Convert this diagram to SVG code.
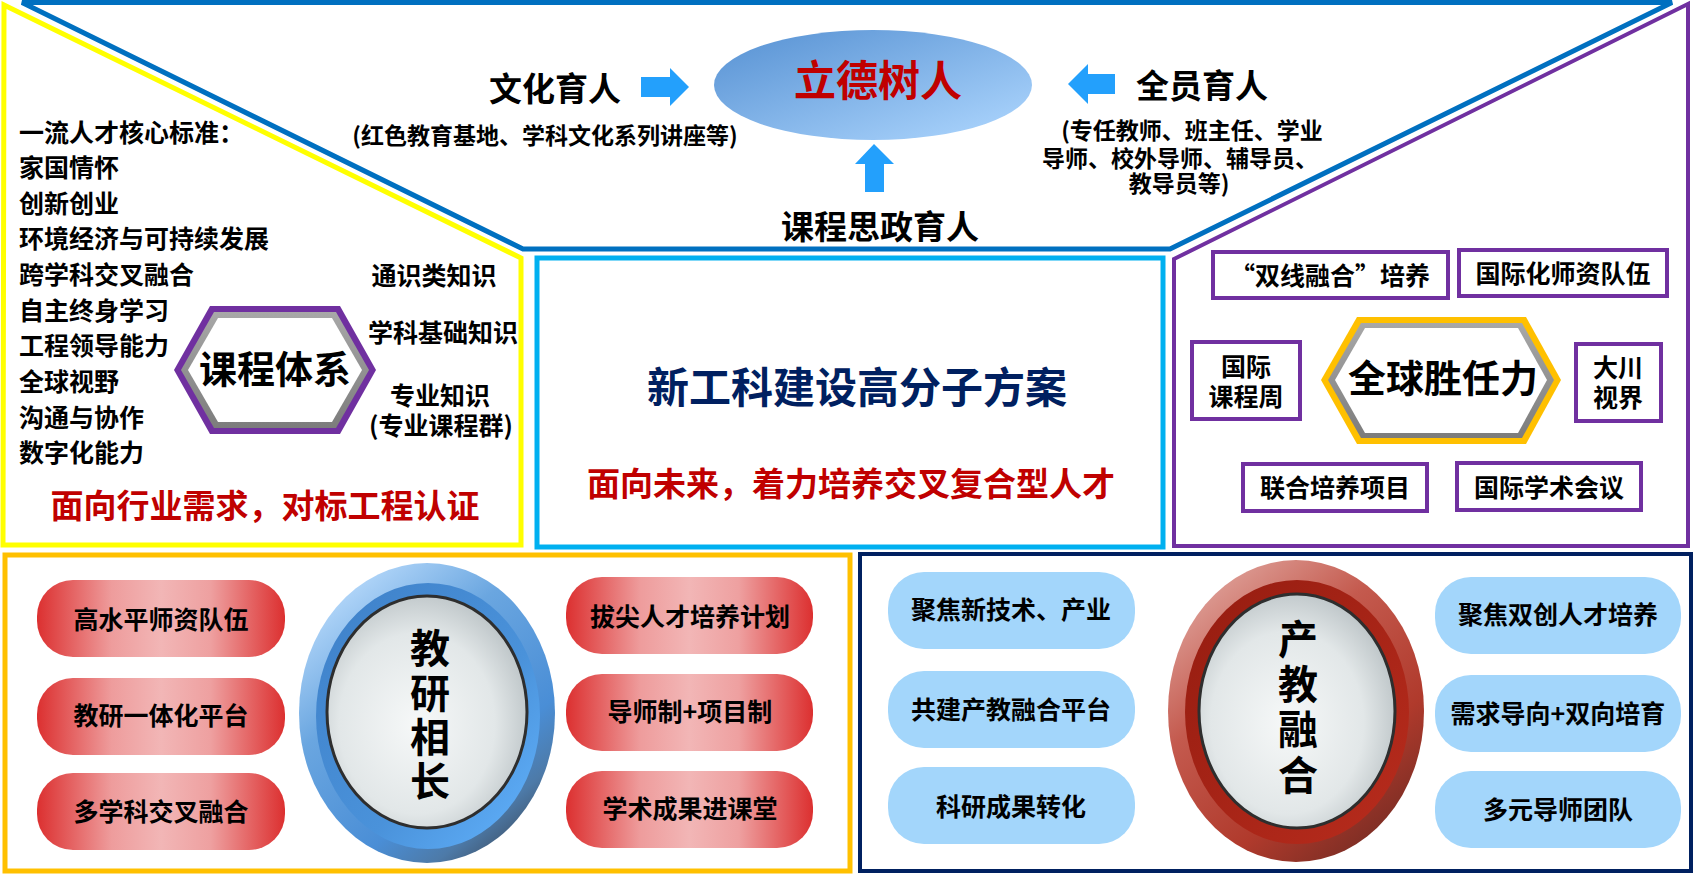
<svg xmlns="http://www.w3.org/2000/svg" width="1697" height="875" viewBox="0 0 1697 875">
<style>
.t{font-family:"Noto Sans CJK SC","Noto Sans",sans-serif;font-weight:700;fill:#000}
.m{text-anchor:middle}
.red{fill:#c00000}
.navy{fill:#002060}
.f23{font-size:23px}.f25{font-size:25px}.f33{font-size:33px}.f38{font-size:38px}.f40{font-size:40px}.f42{font-size:42px}
.pbox{fill:#fff;stroke:#7030a0;stroke-width:4}
.rpill{fill:url(#redPill)}
.bpill{fill:#a3d6fb}
.arrow{fill:#23a0fc}
.inner{fill:url(#innerG);stroke:#2e2e2e;stroke-width:3}
</style>
<defs>
<linearGradient id="topEll" x1="0" y1="0" x2="1" y2="1"><stop offset="0" stop-color="#5590d2"/><stop offset="1" stop-color="#b0d8ff"/></linearGradient>
<linearGradient id="redPill" x1="0" y1="0" x2="1" y2="0"><stop offset="0" stop-color="#dc3030"/><stop offset="0.3" stop-color="#ee9c9c"/><stop offset="0.5" stop-color="#f2b6b6"/><stop offset="0.7" stop-color="#eea0a0"/><stop offset="1" stop-color="#dc3030"/></linearGradient>
<linearGradient id="blueRing" x1="0.15" y1="0" x2="0.85" y2="1"><stop offset="0" stop-color="#c4e2ff"/><stop offset="0.35" stop-color="#6aa6e0"/><stop offset="0.7" stop-color="#4a8ed6"/><stop offset="0.85" stop-color="#4d7aa8"/><stop offset="1" stop-color="#3a4656"/></linearGradient>
<linearGradient id="blueBand" x1="0" y1="0" x2="1" y2="1"><stop offset="0" stop-color="#3e80c8"/><stop offset="0.6" stop-color="#4a92da"/><stop offset="1" stop-color="#63b4ff"/></linearGradient>
<linearGradient id="redRing" x1="0.15" y1="0" x2="0.85" y2="1"><stop offset="0" stop-color="#e2aaa3"/><stop offset="0.35" stop-color="#c45a4e"/><stop offset="0.7" stop-color="#b03a2c"/><stop offset="1" stop-color="#6e2a22"/></linearGradient>
<linearGradient id="redBand" x1="0" y1="0" x2="1" y2="1"><stop offset="0" stop-color="#951c10"/><stop offset="1" stop-color="#b82c1d"/></linearGradient>
<radialGradient id="innerG" cx="0.45" cy="0.55" r="0.6"><stop offset="0" stop-color="#f6f8f8"/><stop offset="0.65" stop-color="#e2e7e8"/><stop offset="1" stop-color="#b9c1c4"/></radialGradient>
<linearGradient id="bevel" x1="0" y1="0" x2="0" y2="1"><stop offset="0" stop-color="#a8a8a8"/><stop offset="1" stop-color="#7c7c7c"/></linearGradient>
</defs>
<rect width="1697" height="875" fill="#fff"/>

<g id="frames">
<polygon points="22,2.5 523,249 1170,249 1672,2.5" fill="none" stroke="#0070c0" stroke-width="5"/>
<polygon points="4,5 521,258 521,545 3,545" fill="none" stroke="#ffff00" stroke-width="5"/>
<rect x="537" y="258" width="626" height="289" fill="none" stroke="#00b0f0" stroke-width="5"/>
<polygon points="1174,259 1688,4 1688,546 1174,546" fill="none" stroke="#7030a0" stroke-width="4"/>
<rect x="5" y="555" width="845" height="316" fill="none" stroke="#ffc000" stroke-width="5"/>
<rect x="860" y="554" width="831" height="317" fill="none" stroke="#002060" stroke-width="4"/>
</g>

<g id="lide">
<ellipse cx="873" cy="85" rx="159" ry="55" fill="url(#topEll)"/>
<text class="t f42 m red" x="878" y="96">立德树人</text>
</g>
<g id="wenhua">
<text class="t f33 m" x="555" y="100.5">文化育人</text>
<text class="t f23 m" x="545" y="143.7">(红色教育基地、学科文化系列讲座等)</text>
</g>
<g id="quanyuan">
<text class="t f33 m" x="1202" y="97.5">全员育人</text>
<text class="t f23 m"><tspan x="1192" y="138.7">(专任教师、班主任、学业</tspan><tspan x="1180" y="166.7">导师、校外导师、辅导员、</tspan><tspan x="1179" y="191.7">教导员等)</tspan></text>
</g>
<g id="kecheng-sizheng">
<text class="t f33 m" x="880" y="238.5">课程思政育人</text>
</g>

<g id="connectors">
<polygon class="arrow" points="641,77 670,77 670,68 689,87 670,106 670,97 641,97"/>
<polygon class="arrow" points="1068,84 1088,64 1088,74 1115,74 1115,94 1088,94 1088,104"/>
<polygon class="arrow" points="874,144 894,164 884,164 884,192 865,192 865,164 855,164"/>
</g>

<g id="left-standards">
<text class="t f25"><tspan x="19" y="141.5">一流人才核心标准：</tspan><tspan x="19" y="177">家国情怀</tspan><tspan x="19" y="212.5">创新创业</tspan><tspan x="19" y="248">环境经济与可持续发展</tspan><tspan x="19" y="283.5">跨学科交叉融合</tspan><tspan x="19" y="319.5">自主终身学习</tspan><tspan x="19" y="355">工程领导能力</tspan><tspan x="19" y="390.5">全球视野</tspan><tspan x="19" y="426.5">沟通与协作</tspan><tspan x="19" y="462">数字化能力</tspan></text>
</g>
<g id="kecheng-tixi">
<polygon points="174,370 210,306 340,306 376,370 340,434 210,434" fill="#7030a0"/>
<polygon points="181,370 214,312 336,312 369,370 336,428 214,428" fill="url(#bevel)"/>
<polygon points="188,370 218,318 332,318 362,370 332,422 218,422" fill="#fff"/>
<text class="t f38 m" x="275" y="383.4">课程体系</text>
</g>
<g id="knowledge">
<text class="t f25 m" x="434" y="284.5">通识类知识</text>
<text class="t f25 m" x="443" y="341.5">学科基础知识</text>
<text class="t f25 m"><tspan x="440" y="404.5">专业知识</tspan><tspan x="441" y="434.5">(专业课程群)</tspan></text>
</g>
<g id="left-slogan">
<text class="t f33 m red" x="265" y="517.5">面向行业需求，对标工程认证</text>
</g>

<g id="center-scheme">
<text class="t f42 m navy" x="857" y="403">新工科建设高分子方案</text>
<text class="t f33 m red" x="851" y="495.5">面向未来，着力培养交叉复合型人才</text>
</g>

<g id="global-competence">
<polygon points="1321,380 1357,317 1526,317 1561,380 1526,444 1357,444" fill="#ffc000"/>
<polygon points="1328,380 1361,323 1522,323 1554,380 1522,438 1361,438" fill="url(#bevel)"/>
<polygon points="1335,380 1365,328 1518,328 1547,380 1518,433 1365,433" fill="#fff"/>
<text class="t f38 m" x="1443" y="392.4">全球胜任力</text>
</g>
<g id="shuangxian"><rect class="pbox" x="1213" y="252" width="235" height="46"/><text class="t f25 m" x="1330" y="284.5">“双线融合”培养</text></g>
<g id="guojihua"><rect class="pbox" x="1459" y="250" width="208" height="46"/><text class="t f25 m" x="1563" y="282.5">国际化师资队伍</text></g>
<g id="kechengzhou"><rect class="pbox" x="1192" y="342" width="108" height="77"/><text class="t f25 m"><tspan x="1246" y="375.5">国际</tspan><tspan x="1246" y="405.5">课程周</tspan></text></g>
<g id="dachuan"><rect class="pbox" x="1576" y="344" width="85" height="77"/><text class="t f25 m"><tspan x="1618" y="376.5">大川</tspan><tspan x="1618" y="406.5">视界</tspan></text></g>
<g id="lianhe"><rect class="pbox" x="1243" y="464" width="184" height="47"/><text class="t f25 m" x="1335" y="497">联合培养项目</text></g>
<g id="xueshu"><rect class="pbox" x="1457" y="463" width="184" height="47"/><text class="t f25 m" x="1549" y="496.5">国际学术会议</text></g>

<g id="jiaoyan">
<ellipse cx="427" cy="713" rx="128" ry="150" fill="url(#blueRing)"/>
<ellipse cx="428" cy="716" rx="112" ry="133" fill="url(#blueBand)"/>
<ellipse class="inner" cx="427" cy="712" rx="100" ry="116"/>
<text class="t f40 m"><tspan x="430" y="663.2">教</tspan><tspan x="430" y="708.2">研</tspan><tspan x="430" y="752.2">相</tspan><tspan x="430" y="796.2">长</tspan></text>
</g>
<g id="p-gaoshuiping"><rect class="rpill" x="37" y="580" width="248" height="77" rx="36"/><text class="t f25 m" x="161" y="628.5">高水平师资队伍</text></g>
<g id="p-jiaoyanpingtai"><rect class="rpill" x="37" y="678" width="248" height="77" rx="36"/><text class="t f25 m" x="161" y="724.5">教研一体化平台</text></g>
<g id="p-duoxueke"><rect class="rpill" x="37" y="773" width="248" height="77" rx="36"/><text class="t f25 m" x="161" y="820.5">多学科交叉融合</text></g>
<g id="p-bajian"><rect class="rpill" x="566" y="577" width="247" height="77" rx="36"/><text class="t f25 m" x="690" y="625.5">拔尖人才培养计划</text></g>
<g id="p-daoshi"><rect class="rpill" x="566" y="674" width="247" height="77" rx="36"/><text class="t f25 m" x="690" y="720.5">导师制+项目制</text></g>
<g id="p-xueshu"><rect class="rpill" x="566" y="771" width="247" height="77" rx="36"/><text class="t f25 m" x="690" y="817.5">学术成果进课堂</text></g>

<g id="chanjiao">
<ellipse cx="1296" cy="711" rx="128" ry="151" fill="url(#redRing)"/>
<ellipse cx="1297" cy="712" rx="112" ry="132" fill="url(#redBand)"/>
<ellipse class="inner" cx="1297" cy="711" rx="98" ry="117"/>
<text class="t f40 m"><tspan x="1298" y="654.2">产</tspan><tspan x="1298" y="699.2">教</tspan><tspan x="1298" y="744.2">融</tspan><tspan x="1298" y="790.2">合</tspan></text>
</g>
<g id="p-jujiao"><rect class="bpill" x="888" y="572" width="247" height="77" rx="36"/><text class="t f25 m" x="1011" y="618.5">聚焦新技术、产业</text></g>
<g id="p-gongjian"><rect class="bpill" x="888" y="671" width="247" height="77" rx="36"/><text class="t f25 m" x="1011" y="718.5">共建产教融合平台</text></g>
<g id="p-keyan"><rect class="bpill" x="888" y="767" width="247" height="77" rx="36"/><text class="t f25 m" x="1011" y="815.5">科研成果转化</text></g>
<g id="p-shuangchuang"><rect class="bpill" x="1435" y="577" width="246" height="77" rx="36"/><text class="t f25 m" x="1558" y="623.5">聚焦双创人才培养</text></g>
<g id="p-xuqiu"><rect class="bpill" x="1435" y="675" width="246" height="77" rx="36"/><text class="t f25 m" x="1558" y="722.5">需求导向+双向培育</text></g>
<g id="p-duoyuan"><rect class="bpill" x="1435" y="771" width="246" height="77" rx="36"/><text class="t f25 m" x="1558" y="818.5">多元导师团队</text></g>
</svg>
